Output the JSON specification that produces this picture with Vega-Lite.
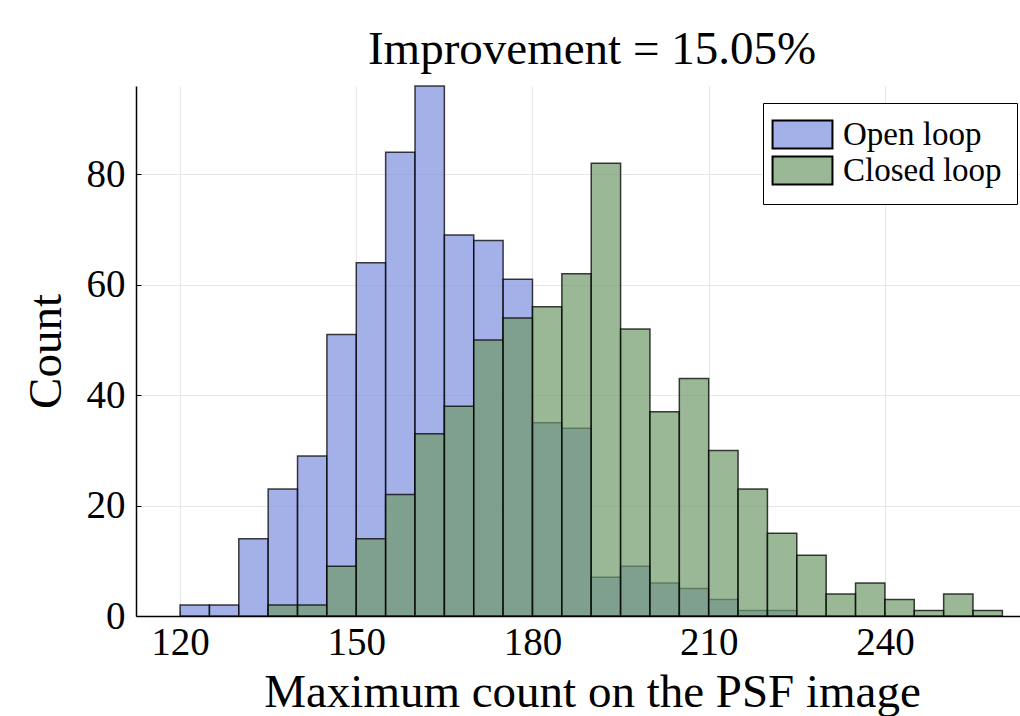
{
  "$schema": "https://vega.github.io/schema/vega-lite/v6.json",
  "width": 884,
  "height": 530,
  "autosize": "none",
  "padding": {"left": 136, "top": 86, "right": 0, "bottom": 100},
  "background": "white",
  "title": {"text": "Improvement = 15.05%", "font": "Liberation Serif", "fontSize": 47, "fontWeight": "normal", "color": "black", "anchor": "middle", "frame": "group", "dx": 14, "dy": 46, "baseline": "alphabetic", "offset": 20},
  "config": {"view": {"stroke": null}, "font": "Liberation Serif"},
  "data": {"values": [
    {"series": "Open loop", "start": 120, "end": 125, "count": 2},
    {"series": "Open loop", "start": 125, "end": 130, "count": 2},
    {"series": "Open loop", "start": 130, "end": 135, "count": 14},
    {"series": "Open loop", "start": 135, "end": 140, "count": 23},
    {"series": "Open loop", "start": 140, "end": 145, "count": 29},
    {"series": "Open loop", "start": 145, "end": 150, "count": 51},
    {"series": "Open loop", "start": 150, "end": 155, "count": 64},
    {"series": "Open loop", "start": 155, "end": 160, "count": 84},
    {"series": "Open loop", "start": 160, "end": 165, "count": 96},
    {"series": "Open loop", "start": 165, "end": 170, "count": 69},
    {"series": "Open loop", "start": 170, "end": 175, "count": 68},
    {"series": "Open loop", "start": 175, "end": 180, "count": 61},
    {"series": "Open loop", "start": 180, "end": 185, "count": 35},
    {"series": "Open loop", "start": 185, "end": 190, "count": 34},
    {"series": "Open loop", "start": 190, "end": 195, "count": 7},
    {"series": "Open loop", "start": 195, "end": 200, "count": 9},
    {"series": "Open loop", "start": 200, "end": 205, "count": 6},
    {"series": "Open loop", "start": 205, "end": 210, "count": 5},
    {"series": "Open loop", "start": 210, "end": 215, "count": 3},
    {"series": "Open loop", "start": 215, "end": 220, "count": 1},
    {"series": "Open loop", "start": 220, "end": 225, "count": 1},
    {"series": "Closed loop", "start": 135, "end": 140, "count": 2},
    {"series": "Closed loop", "start": 140, "end": 145, "count": 2},
    {"series": "Closed loop", "start": 145, "end": 150, "count": 9},
    {"series": "Closed loop", "start": 150, "end": 155, "count": 14},
    {"series": "Closed loop", "start": 155, "end": 160, "count": 22},
    {"series": "Closed loop", "start": 160, "end": 165, "count": 33},
    {"series": "Closed loop", "start": 165, "end": 170, "count": 38},
    {"series": "Closed loop", "start": 170, "end": 175, "count": 50},
    {"series": "Closed loop", "start": 175, "end": 180, "count": 54},
    {"series": "Closed loop", "start": 180, "end": 185, "count": 56},
    {"series": "Closed loop", "start": 185, "end": 190, "count": 62},
    {"series": "Closed loop", "start": 190, "end": 195, "count": 82},
    {"series": "Closed loop", "start": 195, "end": 200, "count": 52},
    {"series": "Closed loop", "start": 200, "end": 205, "count": 37},
    {"series": "Closed loop", "start": 205, "end": 210, "count": 43},
    {"series": "Closed loop", "start": 210, "end": 215, "count": 30},
    {"series": "Closed loop", "start": 215, "end": 220, "count": 23},
    {"series": "Closed loop", "start": 220, "end": 225, "count": 15},
    {"series": "Closed loop", "start": 225, "end": 230, "count": 11},
    {"series": "Closed loop", "start": 230, "end": 235, "count": 4},
    {"series": "Closed loop", "start": 235, "end": 240, "count": 6},
    {"series": "Closed loop", "start": 240, "end": 245, "count": 3},
    {"series": "Closed loop", "start": 245, "end": 250, "count": 1},
    {"series": "Closed loop", "start": 250, "end": 255, "count": 4},
    {"series": "Closed loop", "start": 255, "end": 260, "count": 1}
  ]},
  "mark": {"type": "bar", "stroke": "black", "strokeWidth": 1.5, "strokeOpacity": 0.75, "fillOpacity": 0.7, "cornerRadius": 0},
  "encoding": {
    "x": {"field": "start", "type": "quantitative",
      "scale": {"domain": [112.5, 263], "nice": false, "zero": false},
      "axis": {"values": [120, 150, 180, 210, 240], "title": "Maximum count on the PSF image",
        "titleFont": "Liberation Serif", "titleFontSize": 47, "titleFontWeight": "normal", "titleColor": "black",
        "titleX": 456, "titleY": 90, "titleBaseline": "alphabetic", "titleAlign": "center",
        "labelFont": "Liberation Serif", "labelFontSize": 39, "labelColor": "black", "labelPadding": 12,
        "labelFlush": false, "labelOverlap": false,
        "domainColor": "black", "domainWidth": 1.5, "ticks": true, "tickColor": "black", "tickSize": -5, "tickWidth": 1,
        "grid": true, "gridColor": "#e6e6e6", "gridWidth": 1}},
    "x2": {"field": "end"},
    "y": {"field": "count", "type": "quantitative",
      "scale": {"domain": [0, 96], "nice": false},
      "axis": {"values": [0, 20, 40, 60, 80], "title": "Count",
        "titleFont": "Liberation Serif", "titleFontSize": 47, "titleFontWeight": "normal", "titleColor": "black",
        "titleX": -76, "titleY": 265, "titleBaseline": "alphabetic", "titleAlign": "center", "titleAngle": -90,
        "labelFont": "Liberation Serif", "labelFontSize": 39, "labelColor": "black", "labelPadding": 16,
        "labelFlush": false, "labelOverlap": false,
        "domainColor": "black", "domainWidth": 1.5, "ticks": true, "tickColor": "black", "tickSize": -5, "tickWidth": 1,
        "grid": true, "gridColor": "#e6e6e6", "gridWidth": 1}},
    "y2": {"datum": 0},
    "color": {"field": "series", "type": "nominal",
      "scale": {"domain": ["Open loop", "Closed loop"], "range": ["#7E8EDE", "#6F9A69"]},
      "legend": {"orient": "none", "legendX": 627, "legendY": 17, "title": null,
        "labelFont": "Liberation Serif", "labelFontSize": 33, "labelColor": "black", "labelOffset": 24, "labelLimit": 400,
        "symbolType": "M-2.14,-1H2.14V1H-2.14Z", "symbolSize": 784, "symbolOffset": 8,
        "symbolStrokeColor": "black", "symbolStrokeWidth": 2,
        "strokeColor": "black", "fillColor": "white", "padding": 15, "rowPadding": -1,
        "encode": {"symbols": {"update": {"fillOpacity": {"value": 0.7}, "strokeOpacity": {"value": 1}, "opacity": {"value": 1}}}}}}
  }
}
